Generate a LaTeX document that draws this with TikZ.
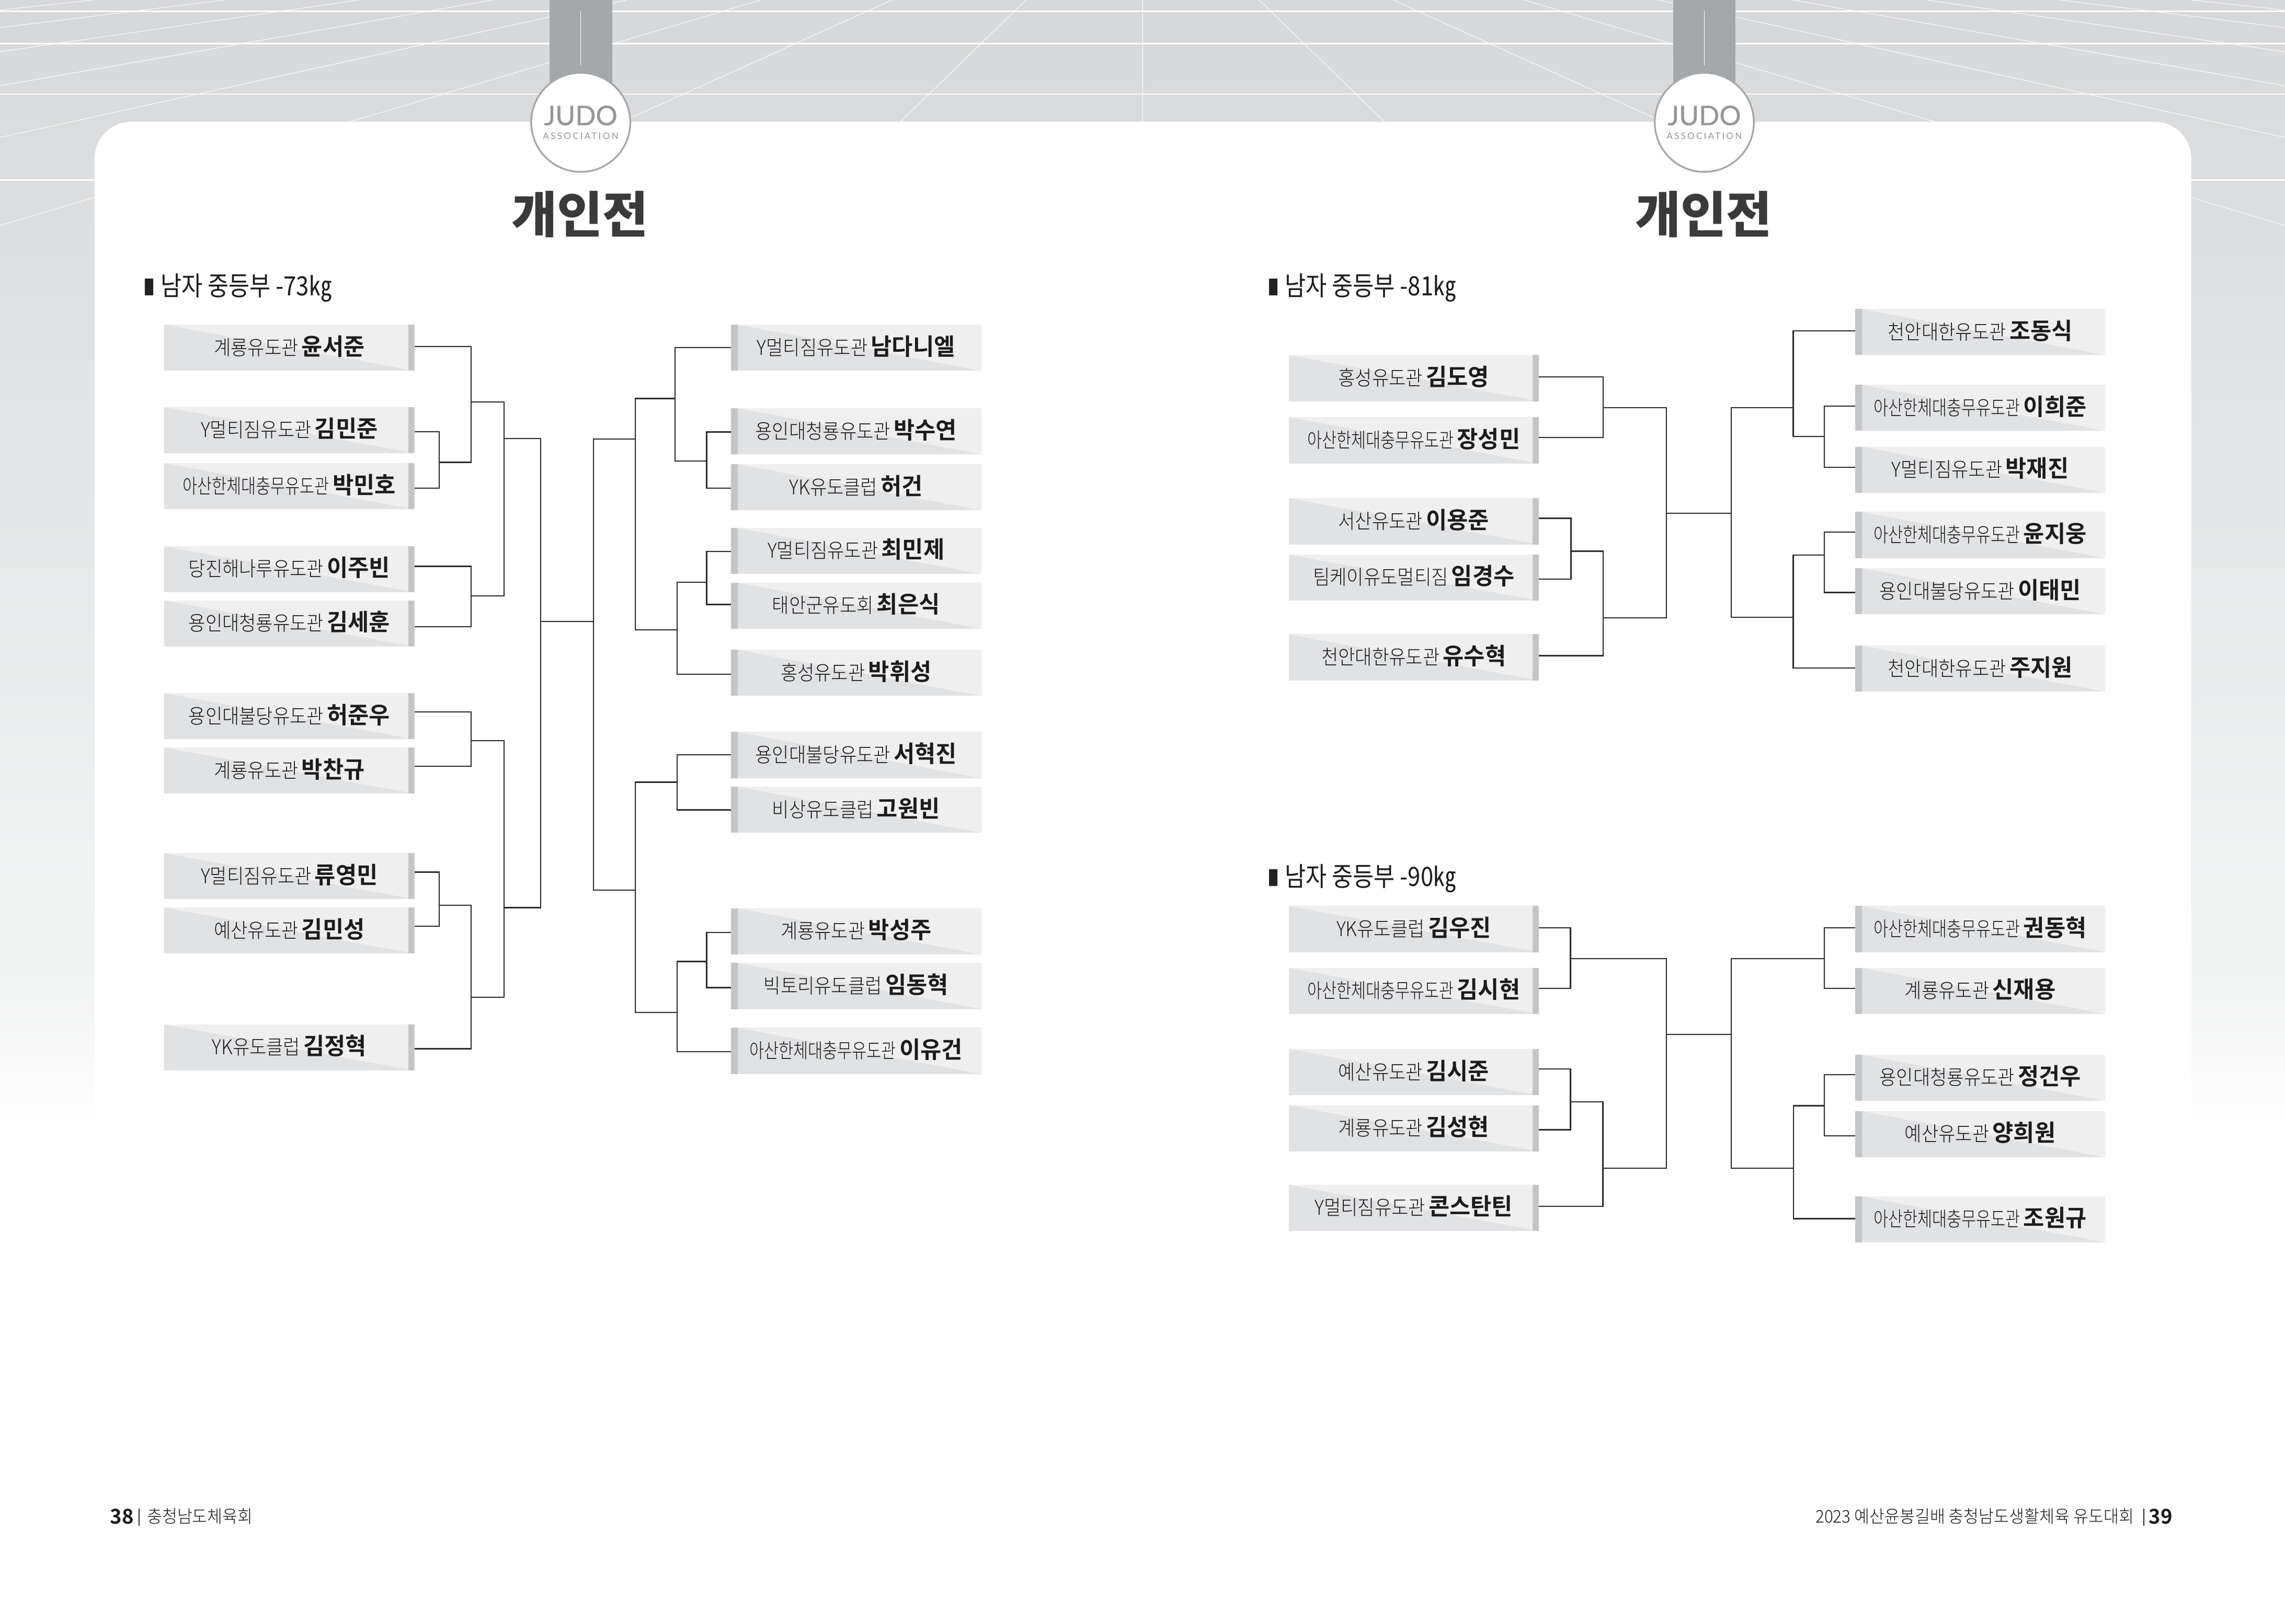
\documentclass[tikz,border=0pt]{standalone}
\usepackage{fontspec}
\setmainfont{Noto Sans CJK KR}
\newfontfamily\krclub[FakeStretch=.9]{Noto Sans CJK KR Light}
\newfontfamily\krclubn[FakeStretch=.78]{Noto Sans CJK KR Light}
\newfontfamily\krname[FakeStretch=.98]{Noto Sans CJK KR Bold}
\newfontfamily\krhead[FakeStretch=.86]{Noto Sans CJK KR}
\newfontfamily\krfoot[FakeStretch=.94]{Noto Sans CJK KR Light}
\newfontfamily\krtitle{Noto Sans CJK KR Black}
\newfontfamily\judoa[FakeBold=.6]{Lato}
\newfontfamily\judob[LetterSpace=18]{Lato}
\newcommand{\Asan}{{\krclubn 아산한체대충무유도관}}
\definecolor{bgtop}{HTML}{D7D8DA}
\definecolor{bgmid}{HTML}{F4F5F5}
\definecolor{bgbot}{HTML}{FEFEFE}
\definecolor{boxdark}{HTML}{E1E2E4}
\definecolor{boxlight}{HTML}{EFEFEF}
\definecolor{boxstrip}{HTML}{C4C5C7}
\definecolor{ribbon}{HTML}{A5A8AA}
\definecolor{ink}{HTML}{2B2B2B}
\definecolor{textink}{HTML}{1C1C1C}
\definecolor{titleink}{HTML}{3A3A3C}
\tikzset{
  x=1pt,y=-1pt,
  gridthin/.style={white,line width=.35pt},
  gridthick/.style={white,line width=.9pt},
  conn/.style={draw=ink,line width=.85pt,line join=miter},
  basebox/.style={inner sep=0pt,minimum width=171.7pt,minimum height=31.7pt,fill=boxdark,
     text height=11.6pt,text depth=1.6pt,text=textink},
  lbox/.style={basebox,path picture={
     \fill[boxlight] (path picture bounding box.north west)--(path picture bounding box.north east)
        --(path picture bounding box.south east)--cycle;
     \fill[boxstrip] ([xshift=-4.3pt]path picture bounding box.north east) rectangle (path picture bounding box.south east);}},
  rbox/.style={basebox,path picture={
     \fill[boxlight] ([xshift=4.6pt]path picture bounding box.north west)--(path picture bounding box.north east)
        --(path picture bounding box.south east)--cycle;
     \fill[boxstrip] (path picture bounding box.north west) rectangle ([xshift=4.6pt]path picture bounding box.south west);}},
  medal/.style={circle,fill=white,draw=ribbon,line width=1.2pt,minimum size=68pt,inner sep=0pt},
  judotext/.style={inner sep=0pt,text=ribbon!90!black},
  titletext/.style={inner sep=0pt,text=titleink,font=\krtitle\fontsize{34}{34}\selectfont},
  headtext/.style={inner sep=0pt,anchor=west,text=textink,font=\krhead\fontsize{18.2}{18.2}\selectfont},
  foottext/.style={inner sep=0pt,text=textink},
}
\newcommand{\LB}[6]{%
  \node[lbox] (#1) at ({#2+85.85},{#3+15.85}) {{\krclub\fontsize{14}{14}\selectfont #5} {\krname\fontsize{16}{16}\selectfont #6}};
  \coordinate (#1-p) at ({#2+171.7},#4);}
\newcommand{\RB}[6]{%
  \node[rbox] (#1) at ({#2+85.85},{#3+15.85}) {{\krclub\fontsize{14}{14}\selectfont #5} {\krname\fontsize{16}{16}\selectfont #6}};
  \coordinate (#1-p) at (#2,#4);}
\newcommand{\Medal}[2]{%
  \fill[ribbon] ({#1-21.5},0) rectangle ({#1+21.5},60);
  \draw[gridthin] (#1,7.4) -- (#1,44.9);
  \node[medal] (#2m) at (#1,84) {};
  \node[judotext,font=\judoa\fontsize{18.5}{18.5}\selectfont] (#2j) at (#1,79.3) {JUDO};
  \node[judotext,font=\judob\fontsize{6.2}{6.2}\selectfont] (#2s) at (#1,93.5) {ASSOCIATION};
  \node[titletext] (#2t) at ({#1-.5},147) {개인전};}
\newcommand{\Head}[4]{%
  \fill[ink!80!black] (#2,{#3-5.7}) rectangle ({#2+5.8},{#3+5.7});
  \node[headtext] (#1) at ({#2+10.8},{#3+.7}) {남자 중등부 #4};}
\begin{document}
\begin{tikzpicture}
\useasboundingbox (0,0) rectangle (1568,1114.46);
\begin{scope}
\clip (0,0) rectangle (1568,1114.46);
\shade[top color=bgtop,bottom color=bgmid] (0,0) rectangle (1568,682);
\shade[top color=bgmid,bottom color=bgbot] (0,682) rectangle (1568,771);
\foreach \o in {80,172,262,354,446,538,630,720}{
  \draw[gridthin] ({784-\o},0) -- ({784-3.06*\o},160);
  \draw[gridthin] ({784+\o},0) -- ({784+3.06*\o},160);
}
\draw[gridthin] (784,0) -- (784,90);
\foreach \y in {7.7,30,64.5,123.6}{\draw[gridthick] (0,\y) -- (1568,\y);}
\fill[white,rounded corners=25pt] (65,83.6) rectangle (1503.6,1050);
\end{scope}
\Medal{398.5}{A}
\Medal{1169.5}{B}
\Head{h1}{99.3}{197}{-73㎏}
\Head{h2}{870.8}{197}{-81㎏}
\Head{h3}{870.8}{602.5}{-90㎏}
% -73 left
\LB{a1}{112.7}{222.8}{237.8}{계룡유도관}{윤서준}
\LB{a2}{112.7}{279.4}{296.4}{Y멀티짐유도관}{김민준}
\LB{a3}{112.7}{317.9}{335.1}{\Asan}{박민호}
\LB{a4}{112.7}{374.9}{388.8}{당진해나루유도관}{이주빈}
\LB{a5}{112.7}{412.2}{430.3}{용인대청룡유도관}{김세훈}
\LB{a6}{112.7}{475.8}{488.7}{용인대불당유도관}{허준우}
\LB{a7}{112.7}{513.1}{526}{계룡유도관}{박찬규}
\LB{a8}{112.7}{585.6}{598.7}{Y멀티짐유도관}{류영민}
\LB{a9}{112.7}{622.9}{635.9}{예산유도관}{김민성}
\LB{a10}{112.7}{703.2}{720}{YK유도클럽}{김정혁}
% -73 right
\RB{b1}{501.6}{222.8}{238.5}{Y멀티짐유도관}{남다니엘}
\RB{b2}{501.6}{280.2}{296.6}{용인대청룡유도관}{박수연}
\RB{b3}{501.6}{318.6}{335.2}{YK유도클럽}{허건}
\RB{b4}{501.6}{362.3}{378.6}{Y멀티짐유도관}{최민제}
\RB{b5}{501.6}{399.9}{415}{태안군유도회}{최은식}
\RB{b6}{501.6}{446}{462.8}{홍성유도관}{박휘성}
\RB{b7}{501.6}{502.5}{518}{용인대불당유도관}{서혁진}
\RB{b8}{501.6}{540}{556}{비상유도클럽}{고원빈}
\RB{b9}{501.6}{623.5}{640}{계룡유도관}{박성주}
\RB{b10}{501.6}{661}{678}{빅토리유도클럽}{임동혁}
\RB{b11}{501.6}{705.5}{722}{\Asan}{이유건}
% -81
\LB{c1}{884.3}{243.7}{258.8}{홍성유도관}{김도영}
\LB{c2}{884.3}{286.4}{300.4}{\Asan}{장성민}
\LB{c3}{884.3}{342}{355.8}{서산유도관}{이용준}
\LB{c4}{884.3}{380.6}{397.6}{팀케이유도멀티짐}{임경수}
\LB{c5}{884.3}{435.4}{450.1}{천안대한유도관}{유수혁}
\RB{d1}{1273}{212.1}{227.1}{천안대한유도관}{조동식}
\RB{d2}{1273}{264.1}{278.9}{\Asan}{이희준}
\RB{d3}{1273}{306.6}{320.7}{Y멀티짐유도관}{박재진}
\RB{d4}{1273}{351.4}{365.2}{\Asan}{윤지웅}
\RB{d5}{1273}{390}{406.7}{용인대불당유도관}{이태민}
\RB{d6}{1273}{443.1}{458.6}{천안대한유도관}{주지원}
% -90
\LB{e1}{884.3}{621.9}{636.8}{YK유도클럽}{김우진}
\LB{e2}{884.3}{664.4}{678.5}{\Asan}{김시현}
\LB{e3}{884.3}{720.1}{733.8}{예산유도관}{김시준}
\LB{e4}{884.3}{758.7}{775.6}{계룡유도관}{김성현}
\LB{e5}{884.3}{813.3}{828.2}{Y멀티짐유도관}{콘스탄틴}
\RB{f1}{1273}{621.9}{636.8}{\Asan}{권동혁}
\RB{f2}{1273}{664.4}{678.5}{계룡유도관}{신재용}
\RB{f3}{1273}{724}{737.8}{용인대청룡유도관}{정건우}
\RB{f4}{1273}{762.7}{779.6}{예산유도관}{양희원}
\RB{f5}{1273}{821.2}{836.6}{\Asan}{조원규}
% junctions -73
\coordinate (j1) at (301.4,317.4);
\coordinate (j2) at (323.3,276);
\coordinate (j3) at (323.3,409);
\coordinate (j4) at (345.9,301.1);
\coordinate (j5) at (323.3,508.4);
\coordinate (j6) at (301.4,621.5);
\coordinate (j7) at (323.3,684.5);
\coordinate (j8) at (345.9,623);
\coordinate (j9) at (371,426.7);
\coordinate (k0) at (407.3,426.7);
\coordinate (k1) at (436,301.3);
\coordinate (k2) at (436,611);
\coordinate (k1a) at (463.3,273.6);
\coordinate (k1b) at (464.7,432.4);
\coordinate (k1c) at (484.9,316.4);
\coordinate (k1d) at (484.9,399.8);
\coordinate (k2a) at (464.7,537);
\coordinate (k2b) at (464.7,695);
\coordinate (k2c) at (484.9,660);
\draw[conn] (a2-p) -| (j1) |- (a3-p);
\draw[conn] (a1-p) -| (j2) |- (j1);
\draw[conn] (a4-p) -| (j3) |- (a5-p);
\draw[conn] (j2) -| (j4) |- (j3);
\draw[conn] (a6-p) -| (j5) |- (a7-p);
\draw[conn] (a8-p) -| (j6) |- (a9-p);
\draw[conn] (j6) -| (j7) |- (a10-p);
\draw[conn] (j5) -| (j8) |- (j7);
\draw[conn] (j4) -| (j9) |- (j8);
\draw[conn] (j9) -- (k0);
\draw[conn] (k1) -| (k0) |- (k2);
\draw[conn] (k1a) -| (k1) |- (k1b);
\draw[conn] (b1-p) -| (k1a) |- (k1c);
\draw[conn] (b2-p) -| (k1c) |- (b3-p);
\draw[conn] (k1d) -| (k1b) |- (b6-p);
\draw[conn] (b4-p) -| (k1d) |- (b5-p);
\draw[conn] (k2a) -| (k2) |- (k2b);
\draw[conn] (b7-p) -| (k2a) |- (b8-p);
\draw[conn] (k2c) -| (k2b) |- (b11-p);
\draw[conn] (b9-p) -| (k2c) |- (b10-p);
% junctions -81
\coordinate (p1) at (1100.1,279.9);
\coordinate (p2) at (1078,378.3);
\coordinate (p3) at (1100.1,424);
\coordinate (p4) at (1143.4,352.4);
\coordinate (p5) at (1188,352.4);
\coordinate (q1) at (1230.5,279.9);
\coordinate (q1a) at (1251.8,299.6);
\coordinate (q2) at (1230.5,423.8);
\coordinate (q2a) at (1251.8,381);
\draw[conn] (c1-p) -| (p1) |- (c2-p);
\draw[conn] (c3-p) -| (p2) |- (c4-p);
\draw[conn] (p2) -| (p3) |- (c5-p);
\draw[conn] (p1) -| (p4) |- (p3);
\draw[conn] (p4) -- (p5);
\draw[conn] (q1) -| (p5) |- (q2);
\draw[conn] (d1-p) -| (q1) |- (q1a);
\draw[conn] (d2-p) -| (q1a) |- (d3-p);
\draw[conn] (q2a) -| (q2) |- (d6-p);
\draw[conn] (d4-p) -| (q2a) |- (d5-p);
% junctions -90
\coordinate (r1) at (1077.7,658);
\coordinate (r2) at (1077.7,756.3);
\coordinate (r3) at (1099.9,802);
\coordinate (r4) at (1143.4,710);
\coordinate (r5) at (1188,710);
\coordinate (s1) at (1251.9,658);
\coordinate (s2) at (1230.7,802);
\coordinate (s2a) at (1251.9,759);
\draw[conn] (e1-p) -| (r1) |- (e2-p);
\draw[conn] (e3-p) -| (r2) |- (e4-p);
\draw[conn] (r2) -| (r3) |- (e5-p);
\draw[conn] (r1) -| (r4) |- (r3);
\draw[conn] (r4) -- (r5);
\draw[conn] (s1) -| (r5) |- (s2);
\draw[conn] (f1-p) -| (s1) |- (f2-p);
\draw[conn] (s2a) -| (s2) |- (f5-p);
\draw[conn] (f3-p) -| (s2a) |- (f4-p);
% footers
\node[foottext,anchor=west,font=\krname\fontsize{14}{14}\selectfont] (fl1) at (75.5,1041) {38};
\draw[ink,line width=.7pt] (95.6,1035.5) -- (95.6,1047.5);
\node[foottext,anchor=west,font=\krfoot\fontsize{12}{12}\selectfont] (fl2) at (100.7,1041) {충청남도체육회};
\node[foottext,anchor=east,font=\krname\fontsize{14}{14}\selectfont] (fr1) at (1491,1041) {39};
\draw[ink,line width=.7pt] (1471,1035.5) -- (1471,1047.5);
\node[foottext,anchor=east,font=\krfoot\fontsize{12}{12}\selectfont] (fr2) at (1464.5,1041) {2023 예산윤봉길배 충청남도생활체육 유도대회};
\end{tikzpicture}
\end{document}
